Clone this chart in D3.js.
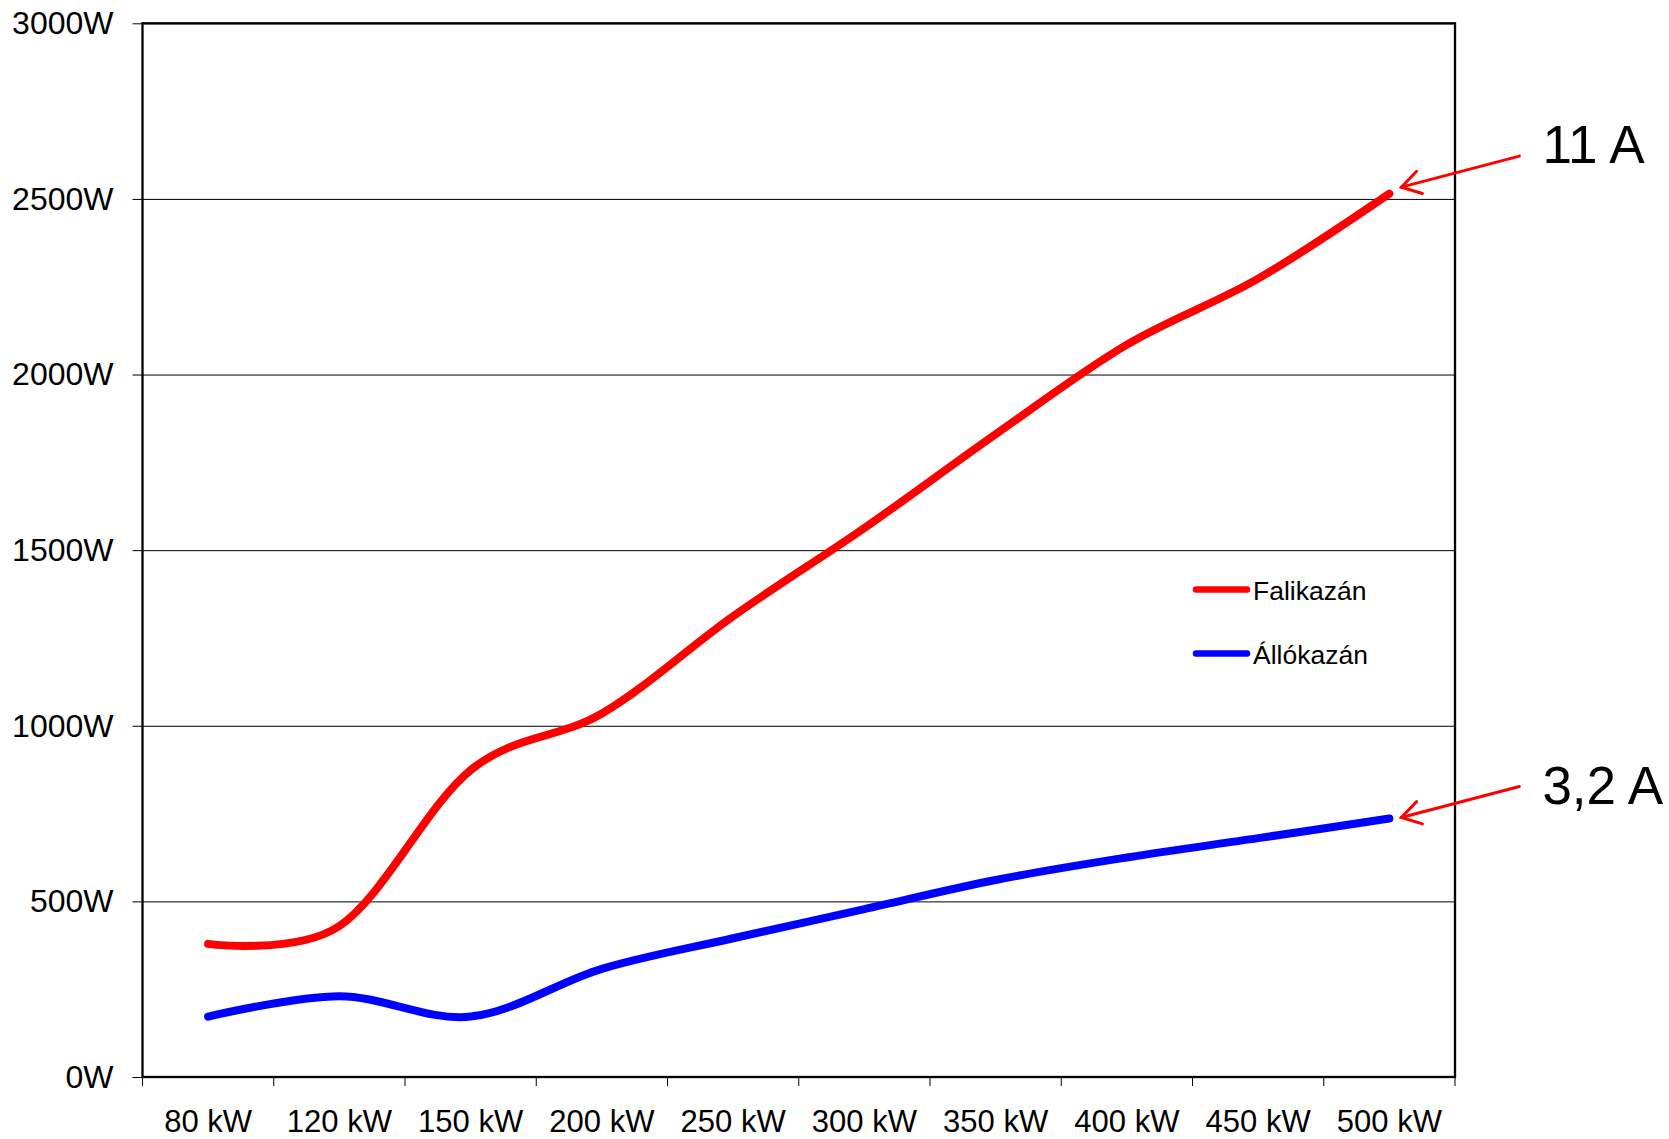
<!DOCTYPE html>
<html>
<head>
<meta charset="utf-8">
<script src="https://cdnjs.cloudflare.com/ajax/libs/d3/7.8.5/d3.min.js"></script>
<style>
  body { margin: 0; background: #fff; }
  text { font-family: Arial, "Liberation Sans", sans-serif; fill: #000; }
</style>
</head>
<body>
<div id="chart"></div>
<script>
// categories (boiler output) and the two series (W)
var categories = ["80 kW", "120 kW", "150 kW", "200 kW", "250 kW", "300 kW", "350 kW", "400 kW", "450 kW", "500 kW"];
var falikazan = [379, 430, 874, 1035, 1312, 1563, 1830, 2085, 2273, 2515];
var allokazan = [172, 230, 172, 308, 395, 478, 561, 625, 680, 736];
var yTicks = [0, 500, 1000, 1500, 2000, 2500, 3000];
var seriesNames = ["Falikazán", "Állókazán"];
var seriesColors = ["#ff0000", "#0000ff"];
var endLabels = ["11 A", "3,2 A"];

function init(){
    var w = 1669;
    var h = 1139;
    var left = 142.5, right = 1455, top = 23.3, bottom = 1077;

    var svg = d3.select("#chart")
        .append("svg")
        .attr("width", w)
        .attr("height", h);

    var x = d3.scaleBand()
        .domain(categories)
        .range([left, right])
        .padding(0);

    var y = d3.scaleLinear()
        .domain([0, 3000])
        .range([bottom, top]);

    // gridlines
    svg.append("g")
        .attr("transform", "translate(" + left + ",0)")
        .call(d3.axisLeft(y).tickValues(yTicks).tickSize(-(right - left)).tickFormat(""))
        .call(function(g) {
            g.select(".domain").remove();
            g.selectAll("line").attr("stroke", "#000").attr("stroke-width", 1);
        });

    // y axis with labels
    svg.append("g")
        .attr("transform", "translate(" + left + ",0)")
        .call(d3.axisLeft(y).tickValues(yTicks).tickSize(10).tickPadding(19)
            .tickFormat(function(d) { return d + "W"; }))
        .call(function(g) {
            g.select(".domain").remove();
            g.selectAll("line").attr("stroke", "#000");
            g.selectAll("text")
                .attr("font-size", 32)
                .attr("font-family", "Arial, 'Liberation Sans', sans-serif")
                .attr("fill", "#000");
        });

    // frame
    svg.append("rect")
        .attr("x", left)
        .attr("y", top)
        .attr("width", right - left)
        .attr("height", bottom - top)
        .attr("fill", "none")
        .attr("stroke", "#000")
        .attr("stroke-width", 2.3);

    // x axis ticks at band boundaries
    var bounds = categories.map(function(c) { return x(c); }).concat([right]);
    svg.selectAll(".xtick")
        .data(bounds)
        .enter()
        .append("line")
        .attr("x1", function(d) { return d; })
        .attr("x2", function(d) { return d; })
        .attr("y1", bottom)
        .attr("y2", bottom + 9)
        .attr("stroke", "#000")
        .attr("stroke-width", 1);

    // x labels
    svg.selectAll(".xlabel")
        .data(categories)
        .enter()
        .append("text")
        .text(function(d) { return d; })
        .attr("x", function(d) { return x(d) + x.bandwidth() / 2; })
        .attr("y", 1131.5)
        .attr("text-anchor", "middle")
        .attr("font-size", 31);

    var cx = function(d, i) { return x(categories[i]) + x.bandwidth() / 2; };

    var line = d3.line()
        .x(cx)
        .y(function(d) { return y(d); })
        .curve(d3.curveCatmullRom.alpha(0));

    var series = [falikazan, allokazan];

    svg.selectAll(".series")
        .data(series)
        .enter()
        .append("path")
        .attr("d", function(d) { return line(d); })
        .attr("fill", "none")
        .attr("stroke", function(d, i) { return seriesColors[i]; })
        .attr("stroke-width", 8)
        .attr("stroke-linecap", "round")
        .attr("stroke-linejoin", "round");

    // legend
    var legendY = [589.5, 653.5];
    seriesNames.forEach(function(name, i) {
        svg.append("line")
            .attr("x1", 1196).attr("x2", 1247)
            .attr("y1", legendY[i]).attr("y2", legendY[i])
            .attr("stroke", seriesColors[i])
            .attr("stroke-width", 6.5)
            .attr("stroke-linecap", "round");
        svg.append("text")
            .text(name)
            .attr("x", 1253)
            .attr("y", legendY[i] + 10)
            .attr("font-size", 26.5);
    });

    // end annotations with arrows
    var last = categories.length - 1;
    var tipDy = [-6.5, -1];
    var labelDy = [7, 18];
    series.forEach(function(s, i) {
        var px = cx(null, last);
        var py = y(s[last]);
        var tipX = px + 12, tipY = py + tipDy[i];
        var tailX = tipX + 118, tailY = tipY - 31;
        var ang = Math.atan2(tailY - tipY, tailX - tipX);
        var hl = 22, spread = 0.55;
        var g = svg.append("g")
            .attr("stroke", "#ff0000")
            .attr("stroke-width", 3)
            .attr("stroke-linecap", "round")
            .attr("fill", "none");
        g.append("line")
            .attr("x1", tailX).attr("y1", tailY)
            .attr("x2", tipX).attr("y2", tipY);
        g.append("polyline")
            .attr("points", [
                [tipX + hl * Math.cos(ang - spread), tipY + hl * Math.sin(ang - spread)],
                [tipX, tipY],
                [tipX + hl * Math.cos(ang + spread), tipY + hl * Math.sin(ang + spread)]
            ].map(function(p) { return p.join(","); }).join(" "));
        svg.append("text")
            .text(endLabels[i])
            .attr("x", tailX + 23)
            .attr("y", tailY + labelDy[i])
            .attr("font-size", 53);
    });
}
window.onload = init;
</script>
</body>
</html>
